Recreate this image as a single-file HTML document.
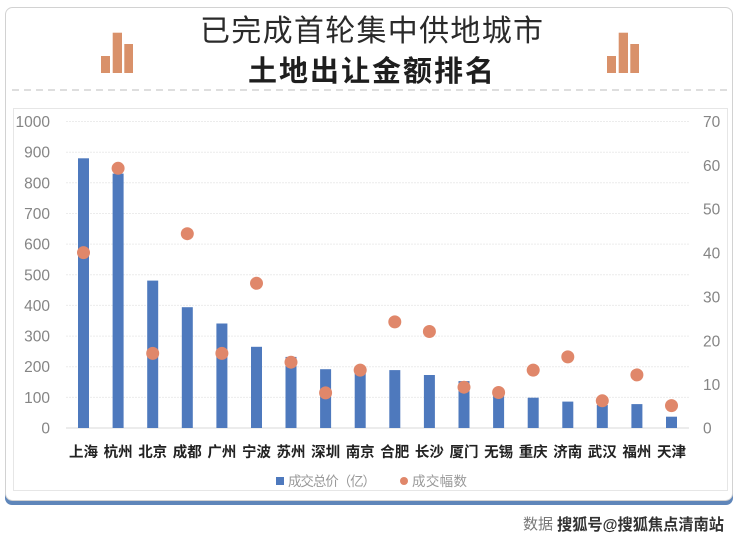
<!DOCTYPE html>
<html><head><meta charset="utf-8"><style>
html,body{margin:0;padding:0;background:#fff;}
svg{display:block;}
text{font-family:"Liberation Sans","Noto Sans CJK SC",sans-serif;}
</style></head><body>
<svg width="740" height="541" viewBox="0 0 740 541" xmlns="http://www.w3.org/2000/svg">
<rect x="0" y="0" width="740" height="541" fill="#fff"/>
<!-- card -->
<rect x="5" y="12" width="728" height="493" rx="7" fill="#5f86ba"/>
<rect x="5.5" y="7.5" width="727" height="493" rx="7" fill="#fff" stroke="#d2d2d2" stroke-width="1"/>
<!-- title -->
<text x="200" y="41" font-size="30" fill="#2a2a2a" textLength="343" lengthAdjust="spacing">已完成首轮集中供地城市</text>
<text x="248" y="81" font-size="29" font-weight="bold" fill="#1e1e1e" textLength="246" lengthAdjust="spacing">土地出让金额排名</text>
<!-- icons -->
<g fill="#d9916a">
<rect x="101" y="56" width="9" height="17"/><rect x="112.7" y="32.7" width="9.3" height="40.3"/><rect x="124.3" y="44" width="8.7" height="29"/>
<rect x="607" y="56" width="9" height="17"/><rect x="618.7" y="32.7" width="9.3" height="40.3"/><rect x="630.3" y="44" width="8.7" height="29"/>
</g>
<line x1="12" y1="90" x2="728" y2="90" stroke="#bdbdbd" stroke-width="1" stroke-dasharray="7 5"/>
<!-- chart area -->
<rect x="13.5" y="108.5" width="714" height="382" fill="none" stroke="#e6e6e6"/>
<g stroke="#ececec" stroke-width="1" stroke-dasharray="2 1">
<line x1="66" y1="121.5" x2="689" y2="121.5"/>
<line x1="66" y1="152.2" x2="689" y2="152.2"/>
<line x1="66" y1="182.8" x2="689" y2="182.8"/>
<line x1="66" y1="213.5" x2="689" y2="213.5"/>
<line x1="66" y1="244.1" x2="689" y2="244.1"/>
<line x1="66" y1="274.8" x2="689" y2="274.8"/>
<line x1="66" y1="305.4" x2="689" y2="305.4"/>
<line x1="66" y1="336.1" x2="689" y2="336.1"/>
<line x1="66" y1="366.7" x2="689" y2="366.7"/>
<line x1="66" y1="397.4" x2="689" y2="397.4"/>
</g>
<line x1="66" y1="428" x2="689" y2="428" stroke="#d9d9d9"/>
<!-- left axis -->
<g font-size="15.5" fill="#858585" text-anchor="end">
<text x="50" y="127">1000</text>
<text x="50" y="157.7">900</text>
<text x="50" y="188.3">800</text>
<text x="50" y="219">700</text>
<text x="50" y="249.6">600</text>
<text x="50" y="280.3">500</text>
<text x="50" y="310.9">400</text>
<text x="50" y="341.6">300</text>
<text x="50" y="372.2">200</text>
<text x="50" y="402.9">100</text>
<text x="50" y="433.5">0</text>
</g>
<g font-size="15.5" fill="#858585" text-anchor="start">
<text x="703" y="127">70</text>
<text x="703" y="170.9">60</text>
<text x="703" y="214.7">50</text>
<text x="703" y="258.6">40</text>
<text x="703" y="302.4">30</text>
<text x="703" y="346.3">20</text>
<text x="703" y="390.1">10</text>
<text x="703" y="433.5">0</text>
</g>
<!-- bars -->
<g fill="#4e79bd">
<rect x="78" y="158.3" width="11" height="269.7"/>
<rect x="112.6" y="173.6" width="11" height="254.4"/>
<rect x="147.2" y="280.6" width="11" height="147.4"/>
<rect x="181.8" y="307.2" width="11" height="120.8"/>
<rect x="216.4" y="323.5" width="11" height="104.5"/>
<rect x="251" y="346.8" width="11" height="81.2"/>
<rect x="285.5" y="356.9" width="11" height="71.1"/>
<rect x="320.1" y="369.2" width="11" height="58.8"/>
<rect x="354.7" y="370.1" width="11" height="57.9"/>
<rect x="389.3" y="370.1" width="11" height="57.9"/>
<rect x="423.9" y="375" width="11" height="53"/>
<rect x="458.5" y="381.1" width="11" height="46.9"/>
<rect x="493.1" y="393.1" width="11" height="34.9"/>
<rect x="527.7" y="397.7" width="11" height="30.3"/>
<rect x="562.3" y="401.6" width="11" height="26.4"/>
<rect x="596.8" y="405" width="11" height="23"/>
<rect x="631.4" y="404.1" width="11" height="23.9"/>
<rect x="666" y="416.7" width="11" height="11.3"/>
</g>
<!-- dots -->
<g fill="#e0876a">
<circle cx="83.5" cy="252.6" r="6.5"/>
<circle cx="118.1" cy="168.3" r="6.5"/>
<circle cx="152.7" cy="353.4" r="6.5"/>
<circle cx="187.3" cy="233.7" r="6.5"/>
<circle cx="221.9" cy="353.4" r="6.5"/>
<circle cx="256.5" cy="283.3" r="6.5"/>
<circle cx="291" cy="362.2" r="6.5"/>
<circle cx="325.6" cy="392.9" r="6.5"/>
<circle cx="360.2" cy="370.1" r="6.5"/>
<circle cx="394.8" cy="321.9" r="6.5"/>
<circle cx="429.4" cy="331.5" r="6.5"/>
<circle cx="464" cy="387.2" r="6.5"/>
<circle cx="498.6" cy="392.5" r="6.5"/>
<circle cx="533.2" cy="370.1" r="6.5"/>
<circle cx="567.8" cy="356.9" r="6.5"/>
<circle cx="602.3" cy="400.8" r="6.5"/>
<circle cx="636.9" cy="374.9" r="6.5"/>
<circle cx="671.5" cy="405.6" r="6.5"/>
</g>
<!-- city labels -->
<g font-size="14.5" font-weight="bold" fill="#222" text-anchor="middle">
<text x="83.5" y="457">上海</text>
<text x="118.1" y="457">杭州</text>
<text x="152.7" y="457">北京</text>
<text x="187.3" y="457">成都</text>
<text x="221.9" y="457">广州</text>
<text x="256.5" y="457">宁波</text>
<text x="291" y="457">苏州</text>
<text x="325.6" y="457">深圳</text>
<text x="360.2" y="457">南京</text>
<text x="394.8" y="457">合肥</text>
<text x="429.4" y="457">长沙</text>
<text x="464" y="457">厦门</text>
<text x="498.6" y="457">无锡</text>
<text x="533.2" y="457">重庆</text>
<text x="567.8" y="457">济南</text>
<text x="602.3" y="457">武汉</text>
<text x="636.9" y="457">福州</text>
<text x="671.5" y="457">天津</text>
</g>
<!-- legend -->
<rect x="276" y="477" width="8" height="8" fill="#4e79bd"/>
<text x="288" y="486" font-size="13.5" fill="#999" textLength="88" lengthAdjust="spacing">成交总价（亿）</text>
<circle cx="404" cy="481" r="4" fill="#e0876a"/>
<text x="412" y="486" font-size="13.5" fill="#999" textLength="55" lengthAdjust="spacing">成交幅数</text>
<!-- watermark -->
<text x="523" y="529" font-size="15" fill="#777">数据</text>
<text x="557" y="530" font-size="16" font-weight="bold" fill="#333" stroke="#fff" stroke-width="2" paint-order="stroke" textLength="167" lengthAdjust="spacingAndGlyphs">搜狐号@搜狐焦点清南站</text>
</svg>
</body></html>
